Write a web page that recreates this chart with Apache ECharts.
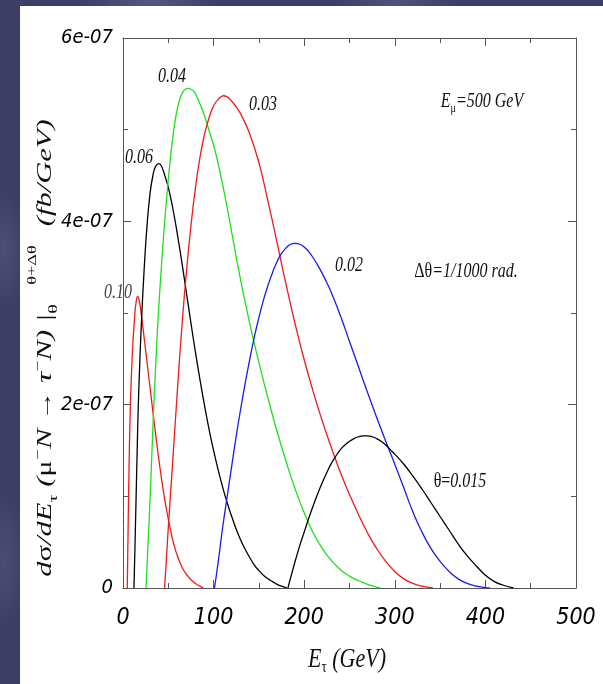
<!DOCTYPE html>
<html>
<head>
<meta charset="utf-8">
<script src="https://cdn.jsdelivr.net/npm/echarts@6/dist/echarts.min.js"></script>
<style>
  html, body { margin: 0; padding: 0; width: 603px; height: 684px; overflow: hidden; }
  body {
    background:
      radial-gradient(ellipse 70px 28px at 150px 2px, #555780 0%, rgba(85,87,128,0) 100%),
      radial-gradient(ellipse 60px 24px at 395px 2px, #50527a 0%, rgba(80,82,122,0) 100%),
      radial-gradient(ellipse 22px 60px at 4px 250px, #4d4f77 0%, rgba(77,79,119,0) 100%),
      radial-gradient(ellipse 22px 70px at 4px 560px, #4b4d75 0%, rgba(75,77,117,0) 100%),
      #3d3e63;
  }
  #panel { position: absolute; left: 20px; top: 6px; width: 583px; height: 678px; background: #ffffff; }
  #chart { position: absolute; left: 0; top: 0; width: 603px; height: 684px; }
</style>
</head>
<body>
<div id="panel"></div>
<div id="chart"></div>
<script>
// Energy spectra of the tau for several muon scattering angles theta.
// x: E_tau in GeV; y: dsigma/dE_tau in units of 1e-7 fb/GeV.
const xTickValues = [0, 100, 200, 300, 400, 500];
const yTickLabels = ['0', '2e-07', '4e-07', '6e-07'];

const theta010 = [[4.7,0],[5.5,0.55],[6.3,1.1],[7.2,1.6],[8.2,2.0],[9.4,2.35],[11,2.68],[12.8,2.95],[14.5,3.12],[16.2,3.18],[18,3.13],[20,3.0],[22.5,2.8],[25,2.59],[28,2.34],[31,2.09],[34,1.84],[37,1.6],[40,1.37],[43,1.16],[46,0.97],[50,0.75],[54,0.56],[58,0.41],[62,0.3],[66,0.21],[70,0.15],[75,0.09],[80,0.05],[85,0.02],[88.6,0]];

const theta006 = [[12.1,0],[13.2,0.45],[14.3,0.92],[15.6,1.48],[16.9,2.0],[18.5,2.45],[20,2.82],[23.2,3.45],[26.5,3.95],[29.8,4.3],[33,4.5],[36,4.6],[39.7,4.63],[43,4.59],[46.4,4.49],[50,4.37],[55,4.14],[60,3.86],[65,3.55],[70,3.22],[75,2.89],[80,2.57],[85,2.27],[90,1.99],[95,1.73],[100,1.5],[105,1.29],[110,1.1],[115,0.93],[120,0.78],[125,0.64],[130,0.52],[135,0.42],[140,0.33],[145,0.25],[150,0.19],[155,0.14],[160,0.1],[165,0.07],[170,0.04],[175,0.02],[181,0]];

const theta004 = [[25.4,0],[27.5,0.45],[30,1.0],[33,1.75],[36,2.42],[39,2.98],[42,3.45],[45,3.87],[48,4.24],[51,4.56],[54,4.84],[57,5.06],[60,5.23],[63,5.34],[66,5.41],[69,5.44],[72,5.45],[75,5.44],[78,5.42],[81,5.37],[85,5.28],[90,5.15],[95,4.99],[100,4.83],[105,4.63],[110,4.4],[115,4.15],[120,3.88],[130,3.35],[140,2.88],[150,2.46],[160,2.07],[170,1.71],[180,1.38],[190,1.08],[200,0.82],[210,0.6],[220,0.43],[230,0.3],[240,0.2],[250,0.13],[260,0.08],[270,0.04],[280,0.01],[284,0]];

const theta003 = [[45.9,0],[48,0.33],[50,0.66],[55,1.4],[60,2.15],[65,2.85],[70,3.45],[75,3.95],[80,4.37],[85,4.7],[90,4.95],[95,5.13],[100,5.26],[105,5.33],[111,5.37],[120,5.31],[130,5.17],[140,4.95],[150,4.64],[160,4.22],[170,3.77],[180,3.31],[190,2.88],[200,2.49],[210,2.14],[220,1.82],[230,1.53],[240,1.26],[250,1.02],[260,0.8],[270,0.6],[280,0.43],[290,0.29],[300,0.18],[310,0.1],[320,0.05],[330,0.02],[342,0]];

const theta002 = [[101,0],[105,0.28],[110,0.66],[115,1.0],[120,1.33],[125,1.66],[130,1.96],[135,2.24],[140,2.5],[145,2.74],[150,2.95],[155,3.14],[160,3.3],[165,3.44],[170,3.56],[175,3.65],[180,3.71],[185,3.75],[190,3.76],[195,3.75],[200,3.72],[205,3.67],[210,3.6],[215,3.52],[220,3.43],[225,3.33],[230,3.22],[240,2.97],[250,2.69],[260,2.41],[270,2.13],[280,1.86],[290,1.6],[300,1.35],[310,1.09],[320,0.83],[330,0.61],[340,0.43],[350,0.29],[360,0.18],[370,0.1],[380,0.05],[390,0.02],[400,0.005],[405,0]];

const theta0015 = [[182,0],[188,0.22],[195,0.46],[200,0.61],[205,0.76],[210,0.9],[215,1.03],[220,1.15],[225,1.26],[230,1.36],[235,1.44],[240,1.51],[245,1.56],[250,1.6],[255,1.63],[260,1.65],[265,1.66],[270,1.66],[275,1.65],[280,1.63],[285,1.6],[290,1.56],[295,1.51],[300,1.46],[310,1.35],[320,1.22],[330,1.08],[340,0.93],[350,0.78],[360,0.63],[370,0.48],[380,0.35],[390,0.24],[400,0.14],[410,0.07],[420,0.03],[431,0]];

const curves = [
  { name: '0.10',  color: '#f01a1a', data: theta010 },
  { name: '0.06',  color: '#000000', data: theta006 },
  { name: '0.04',  color: '#1ee01e', data: theta004 },
  { name: '0.03',  color: '#f01a1a', data: theta003 },
  { name: '0.02',  color: '#1a1af0', data: theta002 },
  { name: '0.015', color: '#000000', data: theta0015 }
];

const SERIF = '"Liberation Serif", "Times New Roman", serif';
const NARROW = '"Liberation Sans Narrow", "DejaVu Sans Condensed", "Liberation Sans", Arial, sans-serif';
const AXIS_COLOR = '#555555';

function frameAxis(extra) {
  return Object.assign({
    type: 'value',
    axisLine: { show: true, onZero: false, lineStyle: { color: AXIS_COLOR, width: 1 } },
    axisTick: { show: true, inside: true, length: 8, lineStyle: { color: AXIS_COLOR, width: 1 } },
    minorTick: { show: true, splitNumber: 2, length: 5, lineStyle: { color: AXIS_COLOR, width: 1 } },
    splitLine: { show: false },
    minorSplitLine: { show: false }
  }, extra);
}

const chart = echarts.init(document.getElementById('chart'), null, { renderer: 'canvas' });

const italicSerif = (size) => ({ fontFamily: SERIF, fontStyle: 'italic', fontSize: size, fill: '#111' });

const option = {
  backgroundColor: 'transparent',
  animation: false,
  grid: { left: 123, right: 27, top: 38, bottom: 96, containLabel: false },
  xAxis: [
    frameAxis({
      position: 'bottom', min: 0, max: 500, interval: 100,
      axisLabel: {
        show: true, margin: 19, color: '#000', fontFamily: NARROW, fontStyle: 'italic', fontSize: 23,
        formatter: (v) => xTickValues.includes(v) ? String(v) : ''
      }
    }),
    frameAxis({ position: 'top', min: 0, max: 500, interval: 100, axisLabel: { show: false } })
  ],
  yAxis: [
    frameAxis({
      position: 'left', min: 0, max: 6, interval: 2,
      axisLabel: {
        show: true, margin: 10, color: '#000', fontFamily: NARROW, fontStyle: 'italic', fontSize: 20,
        formatter: (v) => yTickLabels[Math.round(v / 2)]
      }
    }),
    frameAxis({ position: 'right', min: 0, max: 6, interval: 2, axisLabel: { show: false } })
  ],
  series: curves.map((c) => ({
    name: c.name,
    type: 'line',
    xAxisIndex: 0,
    yAxisIndex: 0,
    data: c.data,
    showSymbol: false,
    smooth: 0.5,
    lineStyle: { color: c.color, width: 1.3 },
    itemStyle: { color: c.color },
    emphasis: { disabled: true }
  })),
  graphic: [
    // curve labels
    { type: 'text', x: 172, y: 77, scaleY: 1.25, style: Object.assign({ text: '0.04', align: 'center', verticalAlign: 'middle' }, italicSerif(16)) },
    { type: 'text', x: 263, y: 105, scaleY: 1.25, style: Object.assign({ text: '0.03', align: 'center', verticalAlign: 'middle' }, italicSerif(16)) },
    { type: 'text', x: 139, y: 158, scaleY: 1.25, style: Object.assign({ text: '0.06', align: 'center', verticalAlign: 'middle' }, italicSerif(16)) },
    { type: 'text', x: 118, y: 293, scaleY: 1.25, style: Object.assign({ text: '0.10', align: 'center', verticalAlign: 'middle' }, italicSerif(16), { fill: '#444' }) },
    { type: 'text', x: 349, y: 266, scaleY: 1.25, style: Object.assign({ text: '0.02', align: 'center', verticalAlign: 'middle' }, italicSerif(16)) },
    {
      type: 'text', x: 482, y: 102, scaleY: 1.25,
      style: {
        text: '{i|E}{s|μ}{i|=500 GeV}', align: 'center', verticalAlign: 'middle',
        rich: {
          i: { fontFamily: SERIF, fontStyle: 'italic', fontSize: 16, lineHeight: 20, fill: '#111' },
          s: { fontFamily: SERIF, fontSize: 10, lineHeight: 10, verticalAlign: 'bottom', fill: '#111' }
        }
      }
    },
    {
      type: 'text', x: 466, y: 272, scaleY: 1.25,
      style: {
        text: '{u|Δθ}{i|=1/1000 rad.}', align: 'center', verticalAlign: 'middle',
        rich: {
          u: { fontFamily: SERIF, fontSize: 16, fill: '#111' },
          i: { fontFamily: SERIF, fontStyle: 'italic', fontSize: 16, fill: '#111' }
        }
      }
    },
    {
      type: 'text', x: 460, y: 482, scaleY: 1.25,
      style: {
        text: '{u|θ=}{i|0.015}', align: 'center', verticalAlign: 'middle',
        rich: {
          u: { fontFamily: SERIF, fontSize: 16, fill: '#111' },
          i: { fontFamily: SERIF, fontStyle: 'italic', fontSize: 16, fill: '#111' }
        }
      }
    },
    // x axis title
    {
      type: 'text', x: 347, y: 660, scaleY: 1.25,
      style: {
        text: '{i|E}{s|τ}{i| (GeV)}', align: 'center', verticalAlign: 'middle',
        rich: {
          i: { fontFamily: SERIF, fontStyle: 'italic', fontSize: 22, lineHeight: 26, fill: '#111' },
          s: { fontFamily: SERIF, fontSize: 13, lineHeight: 13, verticalAlign: 'bottom', fill: '#111' }
        }
      }
    },
    // y axis title
    {
      type: 'text', x: 46, y: 348, rotation: Math.PI / 2, scaleX: 1.53,
      style: {
        text: '{i|d}{u|σ}{i|/dE}{s|τ}{i| (}{u|μ}{p|−}{i|N → τ}{p|−}{i|N) |}{s|θ}{g|}{i|(fb/GeV)}',
        align: 'center', verticalAlign: 'middle',
        rich: {
          i: { fontFamily: SERIF, fontStyle: 'italic', fontSize: 20, lineHeight: 28, fill: '#111' },
          u: { fontFamily: SERIF, fontSize: 20, lineHeight: 28, fill: '#111' },
          s: { fontFamily: SERIF, fontSize: 13, lineHeight: 13, verticalAlign: 'bottom', fill: '#111' },
          p: { fontFamily: SERIF, fontSize: 13, lineHeight: 13, verticalAlign: 'top', fill: '#111' },
          g: { width: 51 }
        }
      }
    },
    {
      type: 'text', x: 33, y: 265, rotation: Math.PI / 2, scaleX: 1.4,
      style: { text: 'θ+Δθ', align: 'center', verticalAlign: 'middle', fontFamily: SERIF, fontSize: 13, fill: '#111' }
    }
  ]
};

chart.setOption(option);
</script>
</body>
</html>
